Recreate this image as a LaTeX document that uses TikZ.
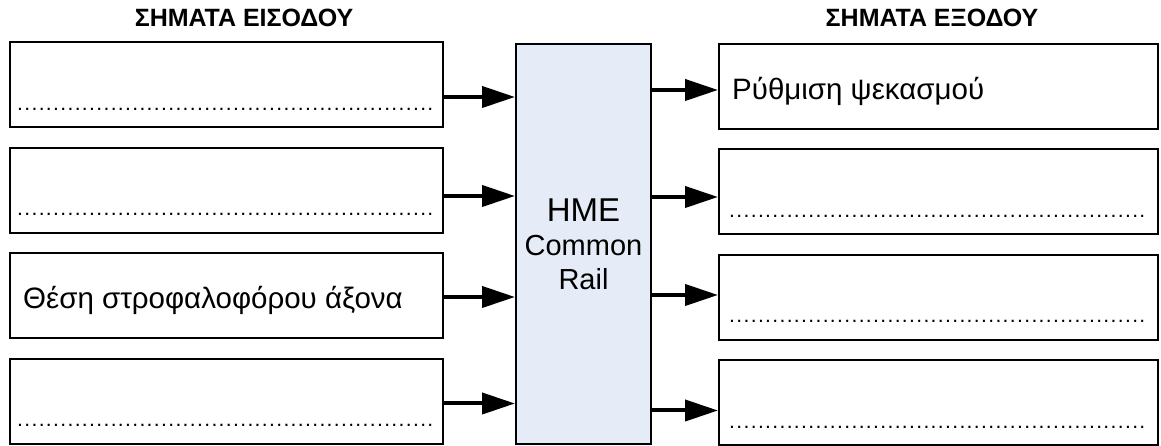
\documentclass[tikz,border=0pt]{standalone}
\usepackage{fontspec}
\setmainfont{Liberation Sans}
\usetikzlibrary{positioning}
\usetikzlibrary{arrows.meta}
\definecolor{ecufill}{RGB}{230,236,247}
\tikzstyle{sigbox} = [draw, line width=2pt, minimum width=433pt, minimum height=85pt, inner sep=0pt]
\tikzstyle{outbox} = [sigbox, minimum width=439pt]
\tikzstyle{ecubox} = [draw, line width=2pt, fill=ecufill, minimum width=135pt, minimum height=400pt, align=center, font=\fontsize{29}{34}\selectfont]
\tikzstyle{heading} = [font=\bfseries\fontsize{25}{30}\selectfont]
\tikzstyle{sigtext} = [anchor=base west, inner sep=0pt, font=\fontsize{29.5}{34}\selectfont]
\tikzstyle{dotrow} = [anchor=base west, inner sep=0pt, font=\fontsize{21}{24}\selectfont]
\tikzstyle{sigarrow} = [line width=4pt, -{Triangle[length=33pt, width=21pt]}]
\newcommand{\dotline}{\foreach \k in {1,...,58}{.\kern1.36pt}}

\begin{document}
\begin{tikzpicture}[x=1pt, y=1pt]
  \useasboundingbox (0,0) rectangle (1161,446);

  % inputs
  \node[heading] (inhead) at (244,428) {ΣΗΜΑΤΑ ΕΙΣΟΔΟΥ};
  \node[sigbox] (in1) at (226.5,361) {};
  \node[sigbox, below=18.5pt of in1] (in2) {};
  \node[sigbox, below=18.5pt of in2] (in3) {};
  \node[sigbox, below=18.5pt of in3] (in4) {};
  \node[dotrow] (in1dots) at ([xshift=8pt, yshift=18pt]in1.south west) {\dotline};
  \node[dotrow] (in2dots) at ([xshift=8pt, yshift=18pt]in2.south west) {\dotline};
  \node[sigtext] (in3txt) at ([xshift=14pt, yshift=31pt]in3.south west) {Θέση στροφαλοφόρου άξονα};
  \node[dotrow] (in4dots) at ([xshift=8pt, yshift=18pt]in4.south west) {\dotline};

  % control unit
  \node[ecubox] (ecu) at (583.5,202) {{\fontsize{33}{37}\selectfont HME}\\Common\\Rail};

  % outputs
  \node[heading] (outhead) at (932,428) {ΣΗΜΑΤΑ ΕΞΟΔΟΥ};
  \node[outbox] (out1) at (938.5,359.5) {};
  \node[outbox, below=18.5pt of out1] (out2) {};
  \node[outbox, below=18.5pt of out2] (out3) {};
  \node[outbox, below=18.5pt of out3] (out4) {};
  \node[sigtext] (out1txt) at ([xshift=14pt, yshift=30pt]out1.south west) {Ρύθμιση ψεκασμού};
  \node[dotrow] (out2dots) at ([xshift=11pt, yshift=18pt]out2.south west) {\dotline};
  \node[dotrow] (out3dots) at ([xshift=11pt, yshift=18pt]out3.south west) {\dotline};
  \node[dotrow] (out4dots) at ([xshift=11pt, yshift=18pt]out4.south west) {\dotline};

  \coordinate (i1) at ([yshift=-12pt]in1.east);
  \coordinate (i2) at ([yshift=-5.5pt]in2.east);
  \coordinate (i3) at ([yshift=-1pt]in3.east);
  \coordinate (i4) at ([yshift=-2pt]in4.east);
  \draw[sigarrow] (i1) -- (i1 -| ecu.west);
  \draw[sigarrow] (i2) -- (i2 -| ecu.west);
  \draw[sigarrow] (i3) -- (i3 -| ecu.west);
  \draw[sigarrow] (i4) -- (i4 -| ecu.west);

  \coordinate (o1) at ([yshift=-3.5pt]out1.west);
  \coordinate (o2) at ([yshift=-5pt]out2.west);
  \coordinate (o3) at ([yshift=2.5pt]out3.west);
  \coordinate (o4) at ([yshift=-7.5pt]out4.west);
  \draw[sigarrow, line cap=round] (o1 -| ecu.east) -- (o1);
  \draw[sigarrow, line cap=round] (o2 -| ecu.east) -- (o2);
  \draw[sigarrow, line cap=round] (o3 -| ecu.east) -- (o3);
  \draw[sigarrow, line cap=round] (o4 -| ecu.east) -- (o4);
\end{tikzpicture}
\end{document}
